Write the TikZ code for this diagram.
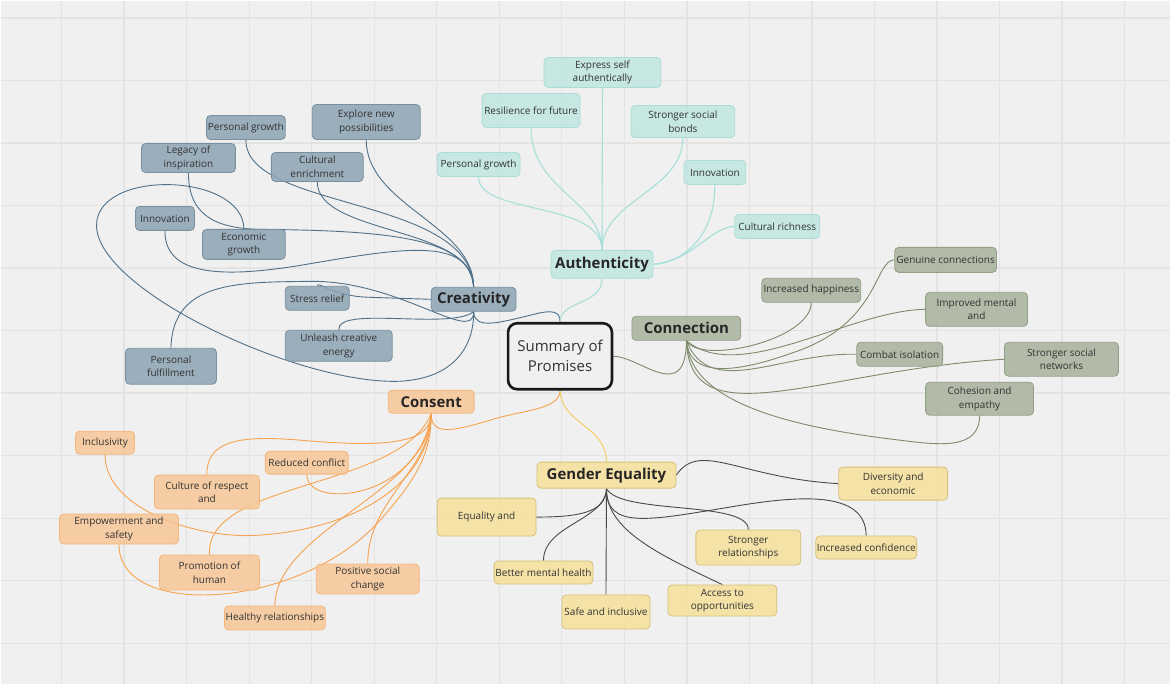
\documentclass[tikz,border=0pt]{standalone}
\usepackage{fontspec}
\setmainfont{Open Sans}
\pgfdeclarelayer{bg}
\pgfdeclarelayer{edges}
\pgfsetlayers{bg,edges,main}
\definecolor{bgc}{HTML}{F0F0F0}
\definecolor{gridc}{HTML}{E3E3E3}
\definecolor{txt}{HTML}{333333}
\definecolor{creF}{HTML}{8CA3B2}
\definecolor{creD}{HTML}{7890A0}
\definecolor{creE}{HTML}{4F7089}
\definecolor{autF}{HTML}{BFE6E0}
\definecolor{autD}{HTML}{ABDDD6}
\definecolor{autE}{HTML}{A6E0D8}
\definecolor{conF}{HTML}{A7B29B}
\definecolor{conD}{HTML}{939E87}
\definecolor{conE}{HTML}{7E8A6C}
\definecolor{cnsF}{HTML}{F6C696}
\definecolor{cnsD}{HTML}{F3B67C}
\definecolor{cnsE}{HTML}{F7A24F}
\definecolor{genF}{HTML}{F6E09B}
\definecolor{genD}{HTML}{D6C07B}
\definecolor{genE}{HTML}{4A4A4A}
\definecolor{genY}{HTML}{F6CD66}
\tikzset{
  base/.style={rounded corners=4pt, draw, line width=0.8pt, align=center, inner sep=0pt,
    font=\fontsize{10}{13.5}\selectfont, text=txt, fill opacity=0.85, text opacity=1},
  wh/.style 2 args={minimum width=#1pt, minimum height=#2pt},
  hdr/.style={font=\fontsize{15}{17}\selectfont\bfseries, text=black!85},
  cre/.style={base, fill=creF, draw=creD},
  aut/.style={base, fill=autF, draw=autD},
  con/.style={base, fill=conF, draw=conD},
  cns/.style={base, fill=cnsF, draw=cnsD},
  gen/.style={base, fill=genF, draw=genD},
  ecre/.style={draw=creE, line width=0.9pt},
  eaut/.style={draw=autE, line width=1.1pt},
  econ/.style={draw=conE, line width=0.9pt},
  ecns/.style={draw=cnsE, line width=0.9pt},
  egen/.style={draw=genE, line width=0.9pt},
  egy/.style={draw=genY, line width=1pt},
  gridl/.style={draw=gridc, line width=1.3pt}
}
\begin{document}
\begin{tikzpicture}[x=1pt,y=-1pt]
\begin{pgfonlayer}{bg}
\fill[bgc] (0,0) rectangle (1171,684);
\foreach \i in {0,...,17} \draw[gridl] ({61+62.6*\i},0) -- ({61+62.6*\i},684);
\foreach \j in {0,...,10} \draw[gridl] (0,{17.3+62.6*\j}) -- (1171,{17.3+62.6*\j});
\end{pgfonlayer}
\useasboundingbox (0,0) rectangle (1171,684);

% center
\node[rounded corners=9pt, draw=black!90, line width=2.6pt, fill=bgc, wh={104}{66}, align=center,
  inner sep=0pt, font=\fontsize{15}{20}\selectfont, text=txt] (ctr) at (560,356) {Summary of\\Promises};

% Creativity
\node[cre, hdr, wh={85}{24}] (cre) at (473.5,299) {Creativity};
\node[cre, wh={79}{24}] (cPG) at (245.5,127) {Personal growth};
\node[cre, wh={108}{35}] (cEx) at (366,121.5) {Explore new\\possibilities};
\node[cre, wh={94}{29}] (cLe) at (188,157.5) {Legacy of\\inspiration};
\node[cre, wh={92}{29}] (cCu) at (317,166.5) {Cultural\\enrichment};
\node[cre, wh={59}{24}] (cIn) at (164.5,218) {Innovation};
\node[cre, wh={83}{30}] (cEc) at (243.5,244) {Economic\\growth};
\node[cre, wh={64}{24}] (cSt) at (317,298) {Stress relief};
\node[cre, wh={107}{31}] (cUn) at (338.5,345.5) {Unleash creative\\energy};
\node[cre, wh={91}{36}] (cPF) at (170.5,366) {Personal\\fulfillment};

% Authenticity
\node[aut, hdr, wh={102}{28}] (auth) at (602,264) {Authenticity};
\node[aut, wh={117}{30}] (aEx) at (602.5,72) {Express self\\authentically};
\node[aut, wh={98}{34}] (aRe) at (531,110) {Resilience for future};
\node[aut, wh={104}{32}] (aSt) at (683,121) {Stronger social\\bonds};
\node[aut, wh={83}{24}] (aPG) at (478.5,164) {Personal growth};
\node[aut, wh={62}{24}] (aIn) at (715,172) {Innovation};
\node[aut, wh={85}{24}] (aCu) at (777.5,226) {Cultural richness};

% Connection
\node[con, hdr, wh={109}{24}] (conn) at (686.5,328) {Connection};
\node[con, wh={102}{25}] (nGe) at (946,259.5) {Genuine connections};
\node[con, wh={99}{24}] (nHa) at (811.5,290) {Increased happiness};
\node[con, wh={102}{34}] (nIm) at (977,309) {Improved mental\\and};
\node[con, wh={86}{24}] (nCo) at (900,354) {Combat isolation};
\node[con, wh={114}{34}] (nSt) at (1062,359) {Stronger social\\networks};
\node[con, wh={108}{33}] (nCh) at (980,398.5) {Cohesion and\\empathy};

% Consent
\node[cns, hdr, wh={86}{23}] (cons) at (431,401.5) {Consent};
\node[cns, wh={59}{23}] (sIn) at (104.5,442.5) {Inclusivity};
\node[cns, wh={83}{23}] (sRe) at (306.5,462.5) {Reduced conflict};
\node[cns, wh={105}{34}] (sCu) at (206.5,492) {Culture of respect\\and};
\node[cns, wh={119}{30}] (sEm) at (118.5,529) {Empowerment and\\safety};
\node[cns, wh={100}{35}] (sPr) at (209,572.5) {Promotion of\\human};
\node[cns, wh={103}{30}] (sPo) at (367.5,579) {Positive social\\change};
\node[cns, wh={101}{24}] (sHe) at (274.5,618) {Healthy relationships};

% Gender Equality
\node[gen, hdr, wh={139}{26}] (ge) at (606.5,475) {Gender Equality};
\node[gen, wh={99}{38}] (gEq) at (486.5,517) {Equality and};
\node[gen, wh={99}{23}] (gBe) at (543.5,572.5) {Better mental health};
\node[gen, wh={88}{34}] (gSa) at (606,612) {Safe and inclusive};
\node[gen, wh={105}{35}] (gSt) at (748.5,547.5) {Stronger\\relationships};
\node[gen, wh={109}{31}] (gAc) at (722.5,600.5) {Access to\\opportunities};
\node[gen, wh={101}{23}] (gIc) at (866.5,547.5) {Increased confidence};
\node[gen, wh={109}{33}] (gDi) at (893.5,483.5) {Diversity and\\economic};

\begin{pgfonlayer}{edges}
% center links
\draw[ecre] (cre.south) .. controls (474,330) and (500,322) .. (530,315) .. controls (555,308) and (560,312) .. (ctr.north);
\draw[eaut] (ctr.north) .. controls (560,300) and (602,305) .. (auth.south);
\draw[econ] (ctr.east) .. controls (640,356) and (686,405) .. (conn.south);
\draw[ecns] (ctr.south) .. controls (560,410) and (520,410) .. (490,420) .. controls (450,432) and (431,435) .. (cons.south);
\draw[egy] (ctr.south) .. controls (562,425) and (606,425) .. (ge.north);

% creativity
\draw[ecre] (cPG.south) .. controls (245,210) and (470,195) .. (cre.north);
\draw[ecre] (cEx.south) .. controls (366,205) and (474,225) .. (cre.north);
\draw[ecre] (cCu.south) .. controls (317,235) and (474,225) .. (cre.north);
\draw[ecre] (cLe.south) .. controls (188,215) and (215,228) .. (260,229) .. controls (400,230) and (470,240) .. (cre.north);
\draw[ecre] (cIn.south) .. controls (164,275) and (220,278) .. (300,265) .. controls (400,248) and (470,235) .. (cre.north);
\draw[ecre] (cSt.north) .. controls (318,280) and (330,296) .. (370,297) -- (cre.west);
\draw[ecre] (cUn.north) .. controls (336,305) and (450,330) .. (cre.south);
\draw[ecre] (cPF.north) .. controls (172,280) and (240,282) .. (310,281) .. controls (400,280) and (474,345) .. (cre.south);
\draw[ecre] (cEc.north) .. controls (243,172) and (96,168) .. (96,225) .. controls (96,290) and (300,385) .. (400,381) .. controls (455,378) and (474,345) .. (cre.south);

% authenticity
\draw[eaut] (aEx.south) -- (auth.north);
\draw[eaut] (aRe.south) .. controls (531,190) and (602,200) .. (auth.north);
\draw[eaut] (aSt.south) .. controls (683,190) and (602,200) .. (auth.north);
\draw[eaut] (aPG.south) .. controls (478,215) and (602,200) .. (auth.north);
\draw[eaut] (aIn.south) .. controls (715,240) and (680,262) .. (auth.east);
\draw[eaut] (aCu.west) .. controls (712,226) and (690,262) .. (auth.east);

% connection
\draw[econ] (nHa.south) .. controls (811,340) and (700,365) .. (conn.south);
\draw[econ] (nGe.west) .. controls (875,260) and (880,320) .. (800,350) .. controls (740,372) and (690,380) .. (conn.south);
\draw[econ] (nIm.west) .. controls (850,310) and (740,385) .. (conn.south);
\draw[econ] (nCo.west) .. controls (780,352) and (710,400) .. (conn.south);
\draw[econ] (nSt.west) .. controls (820,370) and (690,440) .. (conn.south);
\draw[econ] (nCh.south) .. controls (980,450) and (940,445) .. (900,440) .. controls (800,428) and (690,405) .. (conn.south);

% consent
\draw[ecns] (sIn.south) .. controls (104,510) and (200,540) .. (260,535) .. controls (360,528) and (431,480) .. (cons.south);
\draw[ecns] (sCu.north) .. controls (206,440) and (240,435) .. (300,440) .. controls (380,447) and (431,445) .. (cons.south);
\draw[ecns] (sRe.south) .. controls (306,510) and (420,500) .. (cons.south);
\draw[ecns] (sEm.south) .. controls (118,620) and (300,610) .. (380,520) .. controls (420,475) and (431,450) .. (cons.south);
\draw[ecns] (sPr.north) .. controls (205,480) and (400,490) .. (cons.south);
\draw[ecns] (sPo.north) .. controls (367,500) and (431,470) .. (cons.south);
\draw[ecns] (sHe.north) .. controls (275,530) and (431,490) .. (cons.south);

% gender equality
\draw[egen] (gEq.east) .. controls (580,517) and (606,512) .. (ge.south);
\draw[egen] (gBe.north) .. controls (543,525) and (606,520) .. (ge.south);
\draw[egen] (gSa.north) -- (ge.south);
\draw[egen] (gAc.north) .. controls (660,555) and (606,530) .. (ge.south);
\draw[egen] (gSt.north) .. controls (749,500) and (620,515) .. (ge.south);
\draw[egen] (gIc.north) .. controls (866,490) and (800,495) .. (730,507) .. controls (650,520) and (606,530) .. (ge.south);
\draw[egen] (gDi.west) .. controls (740,478) and (700,440) .. (ge.east);
\end{pgfonlayer}
\end{tikzpicture}
\end{document}
